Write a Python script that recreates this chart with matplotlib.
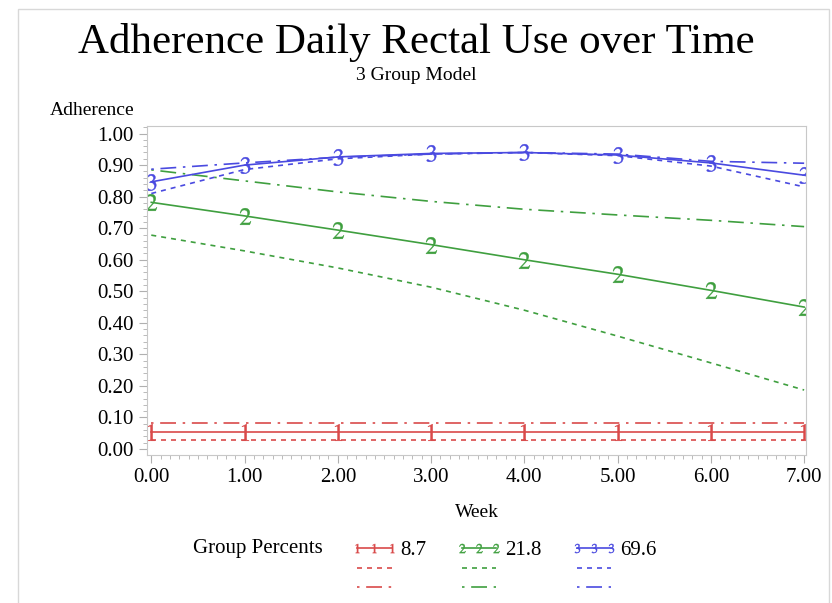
import matplotlib
matplotlib.use('Agg')
import matplotlib.pyplot as plt
from matplotlib.patches import Rectangle
from matplotlib.ticker import MultipleLocator, FormatStrFormatter

plt.rcParams['font.family'] = ['Liberation Serif', 'DejaVu Serif']
plt.rcParams['mathtext.fontset'] = 'stix'

# weeks
weeks = [0, 1, 2, 3, 4, 5, 6, 7]

# group 1 (8.7%)
g1_est = [0.055, 0.055, 0.055, 0.055, 0.055, 0.055, 0.055, 0.055]
g1_low = [0.030, 0.030, 0.030, 0.030, 0.030, 0.030, 0.030, 0.030]
g1_up = [0.081, 0.081, 0.081, 0.081, 0.081, 0.081, 0.081, 0.081]

# group 2 (21.8%)
g2_est = [0.782, 0.739, 0.694, 0.648, 0.600, 0.554, 0.503, 0.450]
g2_low = [0.678, 0.628, 0.574, 0.513, 0.440, 0.358, 0.273, 0.187]
g2_up = [0.885, 0.850, 0.815, 0.785, 0.760, 0.742, 0.725, 0.705]

# group 3 (69.6%)
g3_est = [0.847, 0.900, 0.926, 0.937, 0.940, 0.932, 0.907, 0.868]
g3_low = [0.810, 0.886, 0.920, 0.935, 0.940, 0.930, 0.897, 0.831]
g3_up = [0.887, 0.907, 0.925, 0.935, 0.940, 0.935, 0.912, 0.906]

group_labels = ['8.7', '21.8', '69.6']
colors = ['#d94a4a', '#3f9f3f', '#4a4ae0']

fig = plt.figure(figsize=(8.32, 6.03), dpi=100)
ax = fig.add_axes([147 / 832, 1 - 455 / 603, (806 - 147) / 832, (455 - 126) / 603])

dotted = (0, (3, 3))
dashdot = (13.5, (9.5, 4, 1.5, 4))
handles = []
labels = []
groups = [(g1_est, g1_low, g1_up), (g2_est, g2_low, g2_up), (g3_est, g3_low, g3_up)]
for i, (est, low, up) in enumerate(groups):
    c = colors[i]
    h1, = ax.plot(weeks, est, color=c, lw=1.2, marker='$%d$' % (i + 1),
                  markersize=12, markeredgewidth=0.3)
    h2, = ax.plot(weeks, low, color=c, lw=1.2, linestyle=dotted)
    h3, = ax.plot(weeks, up, color=c, lw=1.2, linestyle=dashdot)
    handles += [h1, h2, h3]
    labels += [group_labels[i], ' ', ' ']

ax.set_xlim(-0.046, 7.02)
ax.set_ylim(-0.019, 1.024)
ax.xaxis.set_major_locator(MultipleLocator(1))
ax.xaxis.set_minor_locator(MultipleLocator(0.1))
ax.yaxis.set_major_locator(MultipleLocator(0.1))
ax.yaxis.set_minor_locator(MultipleLocator(0.02))
ax.xaxis.set_major_formatter(FormatStrFormatter('%.2f'))
ax.yaxis.set_major_formatter(FormatStrFormatter('%.2f'))
ax.tick_params(which='both', direction='out', color='#b0b0b0', labelsize=15)
ax.tick_params(which='major', length=6)
ax.tick_params(which='minor', length=3)
for s in ax.spines.values():
    s.set_color('#c8c8c8')

ax.set_xlabel('Week', fontsize=14, labelpad=12)
fig.text(50 / 832, 1 - 110 / 603, 'Adherence', fontsize=14, ha='left', va='center')

fig.text(0.5, 1 - 42 / 603, 'Adherence Daily Rectal Use over Time', fontsize=31,
         ha='center', va='center')
fig.text(0.5, 1 - 76 / 603, '3 Group Model', fontsize=14, ha='center', va='center')

fig.text(193 / 832, 1 - 548 / 603, 'Group Percents', fontsize=15, ha='left', va='center')
fig.legend(handles, labels, ncol=3, numpoints=3, frameon=False, fontsize=15,
           loc='upper left', bbox_to_anchor=(332 / 832, 1 - 522 / 603),
           handlelength=2.27, handletextpad=0.1, columnspacing=1.4,
           labelspacing=0.0, markerscale=0.55)

fig.patches.append(Rectangle((18 / 832, -0.01), (829 - 18) / 832, 1.01 - 9 / 603,
                             transform=fig.transFigure, fill=False,
                             edgecolor='#d8d8d8', lw=1))

fig.savefig('out.png', dpi=100)
